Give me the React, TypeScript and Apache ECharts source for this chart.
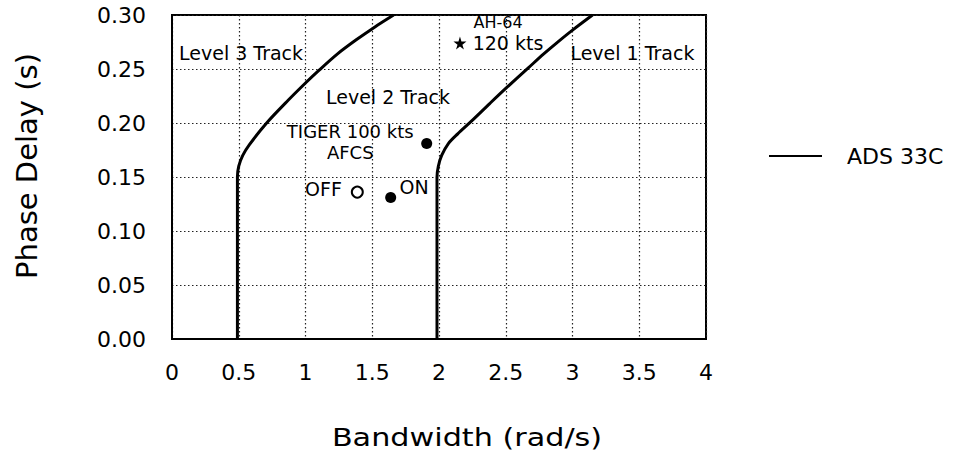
import React, { useEffect, useRef } from "react";
import * as echarts from "echarts";

// ADS-33C track boundaries (Bandwidth rad/s, Phase delay s)
const level23Boundary: number[][] = [
  [0.49, 0], [0.49, 0.15], [0.5, 0.16], [0.53, 0.17], [0.58, 0.18],
  [0.709, 0.2], [0.87, 0.221], [1.0, 0.237], [1.094, 0.248], [1.24, 0.264],
  [1.38, 0.277], [1.52, 0.289], [1.66, 0.3],
];
const level12Boundary: number[][] = [
  [1.985, 0], [1.985, 0.15], [1.995, 0.16], [2.02, 0.17], [2.07, 0.181],
  [2.14, 0.19], [2.245, 0.202], [2.38, 0.218], [2.5, 0.232], [2.669, 0.251],
  [2.78, 0.2635], [2.88, 0.274], [3.0, 0.286], [3.15, 0.3],
];

// Flight test points
const tigerAfcsOn100: number[] = [1.908, 0.181];
const tigerOn: number[] = [1.638, 0.131];
const tigerOff: number[] = [1.388, 0.136];
const ah64At120: number[] = [2.157, 0.274];

// Text annotations
const annotationX: number[] = [0.517, 1.618, 3.449, 2.442, 2.517, 1.335, 1.135, 1.813];
const annotationY: number[] = [0.2645, 0.2243, 0.2648, 0.2926, 0.274, 0.182, 0.1389, 0.1405];
const annotationText: string[] = [
  "Level 3 Track", "Level 2 Track", "Level 1 Track", "AH-64", "120 kts",
  "TIGER 100 kts\nAFCS", "OFF", "ON",
];
const annotationSize: number[] = [19, 19, 19, 16, 19, 18, 19, 19];
const annotationLineHeight: number[] = [19, 19, 19, 16, 19, 21, 19, 19];

const xTickValues: number[] = [0, 0.5, 1, 1.5, 2, 2.5, 3, 3.5, 4];
const yTickValues: number[] = [0, 0.05, 0.1, 0.15, 0.2, 0.25, 0.3];

const FONT = '"DejaVu Sans", "Liberation Sans", sans-serif';
const STAR =
  "path://M50,0 L61,35 L98,35 L68,57 L79,91 L50,70 L21,91 L32,57 L2,35 L39,35 Z";

export default function App() {
  const ref = useRef<HTMLDivElement>(null);

  useEffect(() => {
    if (!ref.current) return;
    const chart = echarts.init(ref.current, null, { renderer: "svg" });

    const boundaryStyle = {
      type: "line",
      name: "ADS 33C",
      showSymbol: false,
      symbol: "none",
      smooth: 0.3,
      lineStyle: { color: "#000", width: 3 },
      itemStyle: { color: "#000" },
      z: 5,
    };

    const option: any = {
      animation: false,
      backgroundColor: "#fff",
      textStyle: { fontFamily: FONT },
      grid: {
        left: 172,
        top: 15,
        width: 534,
        height: 324,
        show: true,
        borderColor: "#000",
        borderWidth: 2,
        containLabel: false,
      },
      legend: {
        data: ["ADS 33C"],
        left: 764,
        top: 140,
        icon: "rect",
        itemWidth: 53,
        itemHeight: 2,
        itemStyle: { color: "#000" },
        textStyle: {
          fontFamily: FONT,
          fontSize: 22,
          color: "#000",
          padding: [0, 0, 0, 20],
        },
      },
      xAxis: {
        type: "value",
        min: 0,
        max: 4,
        interval: 0.5,
        axisLine: { show: true, lineStyle: { color: "#000", width: 2 } },
        axisTick: { show: false },
        axisLabel: {
          fontFamily: FONT,
          fontSize: 22,
          color: "#000",
          margin: 22,
          formatter: (v: number) =>
            xTickValues.includes(v) ? String(v) : "",
        },
        splitLine: {
          show: true,
          lineStyle: { color: "#222", width: 1.2, type: [1.5, 2.5] },
        },
      },
      yAxis: {
        type: "value",
        min: 0,
        max: 0.3,
        interval: 0.05,
        axisLine: { show: true, lineStyle: { color: "#000", width: 2 } },
        axisTick: { show: false },
        axisLabel: {
          fontFamily: FONT,
          fontSize: 22,
          color: "#000",
          margin: 26,
          padding: [4, 0, 0, 0],
          formatter: (v: number) =>
            yTickValues.some((t) => Math.abs(t - v) < 1e-9) ? v.toFixed(2) : "",
        },
        splitLine: {
          show: true,
          lineStyle: { color: "#222", width: 1.2, type: [1.5, 2.5] },
        },
      },
      graphic: [
        {
          type: "text",
          x: 467,
          y: 437,
          scaleX: 1.21,
          style: {
            text: "Bandwidth (rad/s)",
            fontFamily: FONT,
            fontSize: 25,
            fill: "#000",
            align: "center",
            verticalAlign: "middle",
          },
        },
        {
          type: "text",
          x: 27,
          y: 166,
          rotation: Math.PI / 2,
          style: {
            text: "Phase Delay (s)",
            fontFamily: FONT,
            fontSize: 29,
            fill: "#000",
            align: "center",
            verticalAlign: "middle",
          },
        },
      ],
      series: [
        { ...boundaryStyle, data: level23Boundary },
        { ...boundaryStyle, data: level12Boundary },
        {
          type: "scatter",
          name: "AFCS ON",
          symbol: "circle",
          symbolSize: 11,
          itemStyle: { color: "#000", opacity: 1 },
          data: [tigerAfcsOn100, tigerOn],
          z: 6,
        },
        {
          type: "scatter",
          name: "AFCS OFF",
          symbol: "circle",
          symbolSize: 11,
          itemStyle: { color: "#fff", borderColor: "#000", borderWidth: 2, opacity: 1 },
          data: [tigerOff],
          z: 6,
        },
        {
          type: "scatter",
          name: "AH-64",
          symbol: STAR,
          symbolSize: 13,
          itemStyle: { color: "#000", opacity: 1 },
          data: [ah64At120],
          z: 6,
        },
        {
          type: "scatter",
          name: "labels",
          symbolSize: 1,
          itemStyle: { color: "rgba(0,0,0,0)" },
          silent: true,
          z: 7,
          data: annotationText.map((t, i) => ({
            value: [annotationX[i], annotationY[i]],
            label: {
              show: true,
              position: "inside",
              formatter: t,
              fontFamily: FONT,
              fontSize: annotationSize[i],
              lineHeight: annotationLineHeight[i],
              color: "#000",
              opacity: 1,
              align: "center",
              verticalAlign: "middle",
            },
          })),
        },
      ],
    };

    chart.setOption(option);
    return () => chart.dispose();
  }, []);

  return (
    <div
      ref={ref}
      style={{ position: "fixed", left: 0, top: 0, width: 968, height: 454 }}
    />
  );
}
